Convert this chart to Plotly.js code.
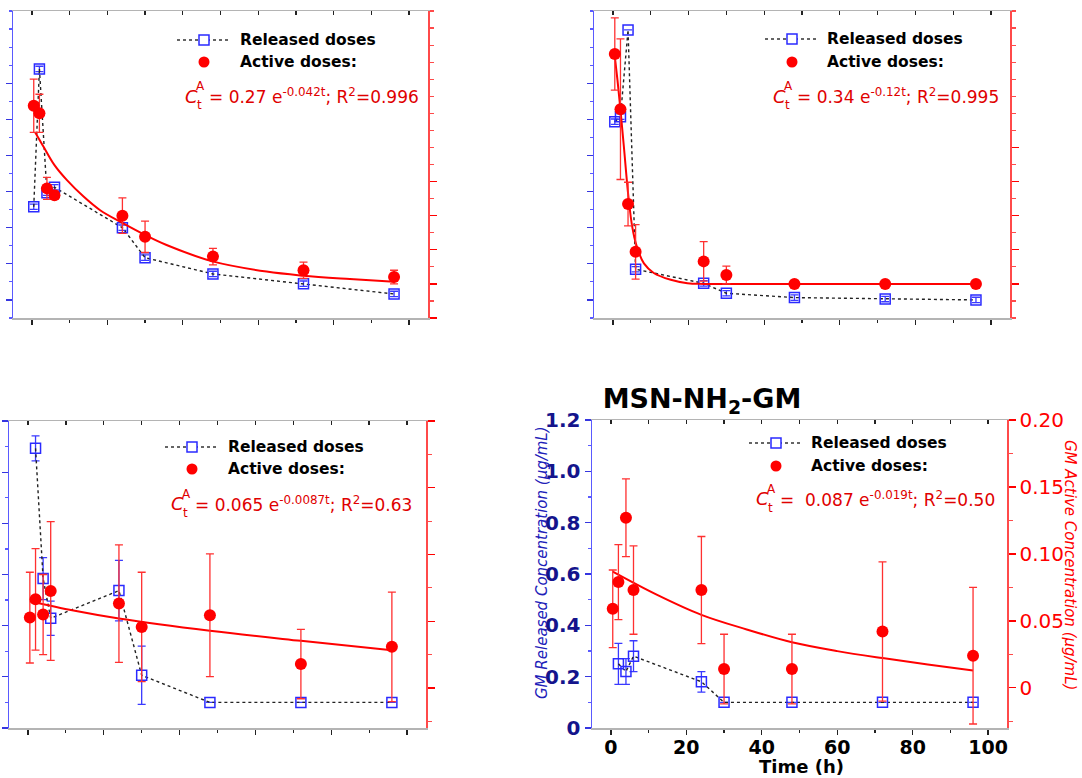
<!DOCTYPE html>
<html>
<head>
<meta charset="utf-8">
<script src="https://cdn.plot.ly/plotly-3.0.1.min.js"></script>
<style>html,body{margin:0;padding:0;background:#fff;}#chart{width:1082px;height:778px;}</style>
</head>
<body>
<div id="chart"></div>
<script>
// ---------------- data ----------------
// time points (h)
const timeAll = [0.5, 2, 4, 6, 24, 30, 48, 72, 96];
const timeRelLate = [2, 4, 6, 24, 30, 48, 72, 96];

// Panel 1 (top-left)
const relP1 = [0.516, 1.279, 0.594, 0.624, 0.400, 0.234, 0.144, 0.090, 0.033];
const relErrP1 = [0.015, 0.015, 0.015, 0.015, 0.015, 0.015, 0.015, 0.015, 0.015];
const actP1 = [0.311, 0.300, 0.190, 0.180, 0.150, 0.119, 0.090, 0.070, 0.060];
const actErrP1 = [0.039, 0.028, 0.016, 0.006, 0.026, 0.023, 0.012, 0.012, 0.010];
const fitTimeP1 = [0.9, 3.1, 6, 9.3, 13.7, 18.1, 24.1, 29.9, 35.7, 47.9, 62.2, 71.9, 84.3, 96];
const fitP1 = [0.272, 0.251, 0.224, 0.202, 0.178, 0.158, 0.139, 0.122, 0.107, 0.083, 0.068, 0.062, 0.057, 0.053];

// Panel 2 (top-right)
const relP2 = [0.987, 1.015, 1.495, 0.170, 0.092, 0.037, 0.013, 0.005, 0.0];
const relErrP2 = [0.015, 0.015, 0.0, 0.015, 0.015, 0.015, 0.015, 0.015, 0.015];
const actP2 = [0.337, 0.256, 0.117, 0.047, 0.033, 0.013, 0.0, 0.0, 0.0];
const actErrP2 = [0.053, 0.103, 0.032, 0.040, 0.029, 0.013, 0, 0, 0];
const fitTimeP2 = [0.3, 1.2, 2, 2.9, 4.1, 5.1, 6.3, 8.2, 10.8, 15.3, 19.7, 24.1, 48, 72, 96];
const fitP2 = [0.343, 0.299, 0.255, 0.201, 0.128, 0.084, 0.055, 0.030, 0.016, 0.006, 0.001, 0.0, 0.0, 0.0, 0.0];

// Panel 3 (bottom-left)
const relP3 = [1.093, 0.584, 0.429, 0.537, 0.206, 0.100, 0.100, 0.100];
const relErrP3 = [0.049, 0.082, 0.067, 0.118, 0.114, 0, 0, 0];
const actP3 = [0.0527, 0.0664, 0.055, 0.0726, 0.0632, 0.0457, 0.0545, 0.0179, 0.0308];
const actErrP3 = [0.034, 0.038, 0.030, 0.052, 0.044, 0.041, 0.046, 0.026, 0.041];
const fitTimeP3 = [0.5, 12, 24, 48, 72, 96];
const fitP3 = [0.065, 0.058, 0.052, 0.0428, 0.0353, 0.0283];

// Panel 4 (bottom-right, MSN-NH2-GM)
const relP4 = [0.25, 0.22, 0.28, 0.18, 0.10, 0.10, 0.10, 0.10];
const relErrP4 = [0.08, 0.05, 0.06, 0.04, 0, 0, 0, 0];
const actP4 = [0.059, 0.079, 0.127, 0.073, 0.073, 0.014, 0.014, 0.042, 0.024];
const actErrP4 = [0.029, 0.028, 0.029, 0.033, 0.040, 0.026, 0.026, 0.052, 0.051];
const fitTimeP4 = [0.5, 12, 24, 36, 48, 60, 72, 84, 96];
const fitP4 = [0.0868, 0.0698, 0.0545, 0.0436, 0.0340, 0.0274, 0.0222, 0.0175, 0.013];

// tick labels (bottom-right panel)
const xTickVals = [0, 20, 40, 60, 80, 100];
const xTickText = ['0', '20', '40', '60', '80', '100'];
const leftTickVals = [0, 0.2, 0.4, 0.6, 0.8, 1.0, 1.2];
const leftTickText = ['0', '0.2', '0.4', '0.6', '0.8', '1.0', '1.2'];
const rightTickVals = [0, 0.05, 0.10, 0.15, 0.20];
const rightTickText = ['0', '0.05', '0.10', '0.15', '0.20'];

// texts
const legendReleased = 'Released doses';
const legendActive = 'Active doses:';
const eqP1 = '= 0.27 e<sup>-0.042t</sup>; R<sup>2</sup>=0.996';
const eqP2 = '= 0.34 e<sup>-0.12t</sup>; R<sup>2</sup>=0.995';
const eqP3 = '= 0.065 e<sup>-0.0087t</sup>; R<sup>2</sup>=0.63';
const eqP4 = '=  0.087 e<sup>-0.019t</sup>; R<sup>2</sup>=0.50';
const titleText = 'MSN-NH<sub>2</sub>-GM';
const xTitle = 'Time (h)';
const leftTitle = 'GM Released Concentration (µg/mL)';
const rightTitle = 'GM Active Concentration (µg/mL)';

// ---------------- layout helpers ----------------
const W = 1082, H = 778;
const PX = x => x / W;
const PY = y => 1 - y / H;

const BLUE_AX = '#5a5aff', BLUE_MK = '#2a2aff', RED = '#ff0000', RED_AX = '#ff4a4a', GRAY = '#b4b4b4';
const FONT = 'DejaVu Sans, Verdana, sans-serif';

const panels = [
  {dx:[13,428], dy:[11,318], left:[-0.1,1.6], lmin:0.1, right:[0,0.45], labels:false,
   rel:relP1, relErr:relErrP1, relT:timeAll, act:actP1, actErr:actErrP1, fitT:fitTimeP1, fit:fitP1,
   leg:{lineX:[177,230], sq:204, y1:40, y2:62, tx:238, eqX:183, eqY:96}, eq:eqP1},
  {dx:[594,1010], dy:[11,318], left:[-0.1,1.6], lmin:0.1, right:[-0.05,0.4], labels:false,
   rel:relP2, relErr:relErrP2, relT:timeAll, act:actP2, actErr:actErrP2, fitT:fitTimeP2, fit:fitP2,
   leg:{lineX:[765,817], sq:792, y1:39, y2:62, tx:825, eqX:771, eqY:96}, eq:eqP2},
  {dx:[9,426], dy:[421,728], left:[0,1.2], lmin:0.1, right:[-0.03,0.2], labels:false,
   rel:relP3, relErr:relErrP3, relT:timeRelLate, act:actP3, actErr:actErrP3, fitT:fitTimeP3, fit:fitP3,
   leg:{lineX:[165,218], sq:192, y1:447, y2:469, tx:226, eqX:169, eqY:504}, eq:eqP3},
  {dx:[592,1007], dy:[420,728], left:[0,1.2], lmin:0.1, right:[-0.03,0.2], labels:true,
   rel:relP4, relErr:relErrP4, relT:timeRelLate, act:actP4, actErr:actErrP4, fitT:fitTimeP4, fit:fitP4,
   leg:{lineX:[749,802], sq:776, y1:443, y2:466, tx:809, eqX:754, eqY:499}, eq:eqP4}
];

const data = [];
const layout = {
  width: W, height: H, margin: {l:0, r:0, t:0, b:0},
  paper_bgcolor: '#fff', plot_bgcolor: 'rgba(0,0,0,0)',
  showlegend: false, font: {family: FONT},
  title: {text: titleText, x: 702/W, y: PY(399), xanchor: 'center', yanchor: 'middle',
          font: {family: FONT, size: 27, color: '#000', weight: 'bold'}},
  shapes: [], annotations: []
};

panels.forEach((p, i) => {
  const n = i + 1;
  const xa = n === 1 ? 'x' : 'x' + n;
  const ya = n === 1 ? 'y' : 'y' + n;
  const yr = 'y' + (n + 4);
  const xt = 'x' + (n + 4);
  const xKey = 'xaxis' + (n === 1 ? '' : n);
  const yKey = 'yaxis' + (n === 1 ? '' : n);
  const xdom = [PX(p.dx[0]), PX(p.dx[1])];
  const ydom = [PY(p.dy[1]), PY(p.dy[0])];

  layout[xKey] = {
    domain: xdom, anchor: ya, range: [-5, 105], showgrid: false, zeroline: false,
    showline: true, linecolor: GRAY, linewidth: 2,
    ticks: 'outside', ticklen: 5, tickwidth: 1.3, tickcolor: '#222',
    tickmode: 'array', tickvals: xTickVals, ticktext: xTickText,
    showticklabels: p.labels, ticklabelstandoff: -4,
    tickfont: {family: FONT, size: 19, color: '#000', weight: 'bold'},
    minor: {dtick: 10, tick0: 0, ticks: 'outside', ticklen: 3, tickcolor: '#222', tickwidth: 1.2},
    fixedrange: true
  };
  layout['xaxis' + (n + 4)] = {
    overlaying: xa, anchor: ya, side: 'top', range: [-5, 105], showgrid: false, zeroline: false,
    showline: true, linecolor: GRAY, linewidth: 1.5,
    ticks: 'inside', ticklen: 4, tickwidth: 1.3, tickcolor: '#222', dtick: 10, tick0: 0,
    showticklabels: false, fixedrange: true
  };
  layout[yKey] = {
    domain: ydom, anchor: xa, range: p.left, showgrid: false, zeroline: false,
    showline: true, linecolor: BLUE_AX, linewidth: 1.5,
    ticks: 'outside', ticklen: 6, tickwidth: 1.3, tickcolor: '#3535e0',
    tickmode: 'array', tickvals: leftTickVals, ticktext: leftTickText,
    showticklabels: p.labels, tickfont: {family: FONT, size: 20, color: '#14148c', weight: 'bold'},
    minor: {dtick: p.lmin, tick0: 0, ticks: 'outside', ticklen: 3, tickcolor: BLUE_AX, tickwidth: 1.2},
    fixedrange: true
  };
  layout['yaxis' + (n + 4)] = {
    overlaying: ya, anchor: xa, side: 'right', range: p.right, showgrid: false, zeroline: false,
    showline: true, linecolor: RED_AX, linewidth: 1.5,
    ticks: 'outside', ticklen: 7, tickwidth: 1.3, tickcolor: RED,
    tickmode: 'array', tickvals: rightTickVals, ticktext: rightTickText,
    showticklabels: p.labels, tickfont: {family: FONT, size: 20, color: RED},
    minor: {dtick: 0.025, tick0: 0, ticks: 'outside', ticklen: 4, tickcolor: RED_AX, tickwidth: 1.2},
    fixedrange: true
  };

  // empty trace so the top overlay axis is drawn
  data.push({x: [], y: [], xaxis: xt, yaxis: ya, type: 'scatter', hoverinfo: 'skip'});

  // released doses (left axis)
  data.push({
    x: p.relT, y: p.rel, xaxis: xa, yaxis: ya, type: 'scatter', mode: 'lines+markers',
    name: legendReleased,
    line: {color: '#222', width: 1.4, dash: 'dot'},
    marker: {symbol: 'square-open', size: 10, color: BLUE_MK, line: {width: 1.5, color: BLUE_MK}},
    error_y: {type: 'data', array: p.relErr, visible: true, color: '#3a3aff', thickness: 1.3, width: 4}
  });
  // fit curve (right axis)
  data.push({
    x: p.fitT, y: p.fit, xaxis: xa, yaxis: yr, type: 'scatter', mode: 'lines',
    line: {color: RED, width: 2, shape: 'spline'}, name: 'fit'
  });
  // active doses (right axis)
  data.push({
    x: timeAll, y: p.act, xaxis: xa, yaxis: yr, type: 'scatter', mode: 'markers',
    name: legendActive,
    marker: {symbol: 'circle', size: 12, color: RED},
    error_y: {type: 'data', array: p.actErr, visible: true, color: '#ff3030', thickness: 1.3, width: 4}
  });

  // legend (drawn with shapes + text)
  const L = p.leg;
  layout.shapes.push({type: 'line', xref: 'paper', yref: 'paper',
    x0: PX(L.lineX[0]), x1: PX(L.lineX[1]), y0: PY(L.y1), y1: PY(L.y1),
    line: {color: '#333', width: 1.4, dash: 'dot'}});
  layout.shapes.push({type: 'rect', xref: 'paper', yref: 'paper',
    x0: PX(L.sq - 5), x1: PX(L.sq + 5), y0: PY(L.y1 + 5), y1: PY(L.y1 - 5),
    fillcolor: '#fff', line: {color: BLUE_MK, width: 1.5}});
  layout.shapes.push({type: 'circle', xref: 'paper', yref: 'paper',
    x0: PX(L.sq - 5.5), x1: PX(L.sq + 5.5), y0: PY(L.y2 + 5.5), y1: PY(L.y2 - 5.5),
    fillcolor: RED, line: {color: RED, width: 0}});
  layout.annotations.push({text: legendReleased, xref: 'paper', yref: 'paper',
    x: PX(L.tx), y: PY(L.y1), xanchor: 'left', yanchor: 'middle', showarrow: false,
    font: {family: FONT, size: 15.5, color: '#000', weight: 'bold'}});
  layout.annotations.push({text: legendActive, xref: 'paper', yref: 'paper',
    x: PX(L.tx), y: PY(L.y2), xanchor: 'left', yanchor: 'middle', showarrow: false,
    font: {family: FONT, size: 15.5, color: '#000', weight: 'bold'}});
  // equation: C with stacked A / t
  layout.annotations.push({text: '<i>C</i>', xref: 'paper', yref: 'paper',
    x: PX(L.eqX), y: PY(L.eqY), xanchor: 'left', yanchor: 'middle', showarrow: false,
    font: {family: FONT, size: 18, color: '#e00000'}});
  layout.annotations.push({text: 'A', xref: 'paper', yref: 'paper',
    x: PX(L.eqX + 11), y: PY(L.eqY - 10), xanchor: 'left', yanchor: 'middle', showarrow: false,
    font: {family: FONT, size: 12, color: '#e00000'}});
  layout.annotations.push({text: 't', xref: 'paper', yref: 'paper',
    x: PX(L.eqX + 12), y: PY(L.eqY + 9), xanchor: 'left', yanchor: 'middle', showarrow: false,
    font: {family: FONT, size: 12, color: '#e00000'}});
  layout.annotations.push({text: p.eq, xref: 'paper', yref: 'paper',
    x: PX(L.eqX + 24), y: PY(L.eqY), xanchor: 'left', yanchor: 'middle', showarrow: false,
    font: {family: FONT, size: 17, color: '#e00000'}});
});

// axis titles of the bottom-right panel
layout.annotations.push({text: xTitle, xref: 'paper', yref: 'paper', x: PX(801), y: PY(766),
  xanchor: 'center', yanchor: 'middle', showarrow: false,
  font: {family: FONT, size: 18, color: '#000', weight: 'bold'}});
layout.annotations.push({text: '<i>' + leftTitle + '</i>', xref: 'paper', yref: 'paper', x: PX(542), y: PY(563),
  xanchor: 'center', yanchor: 'middle', showarrow: false, textangle: -90,
  font: {family: FONT, size: 15, color: '#2020b8'}});
layout.annotations.push({text: '<i>' + rightTitle + '</i>', xref: 'paper', yref: 'paper', x: PX(1070), y: PY(565),
  xanchor: 'center', yanchor: 'middle', showarrow: false, textangle: 90,
  font: {family: FONT, size: 15, color: RED}});

Plotly.newPlot('chart', data, layout, {staticPlot: true, displayModeBar: false});
</script>
</body>
</html>
